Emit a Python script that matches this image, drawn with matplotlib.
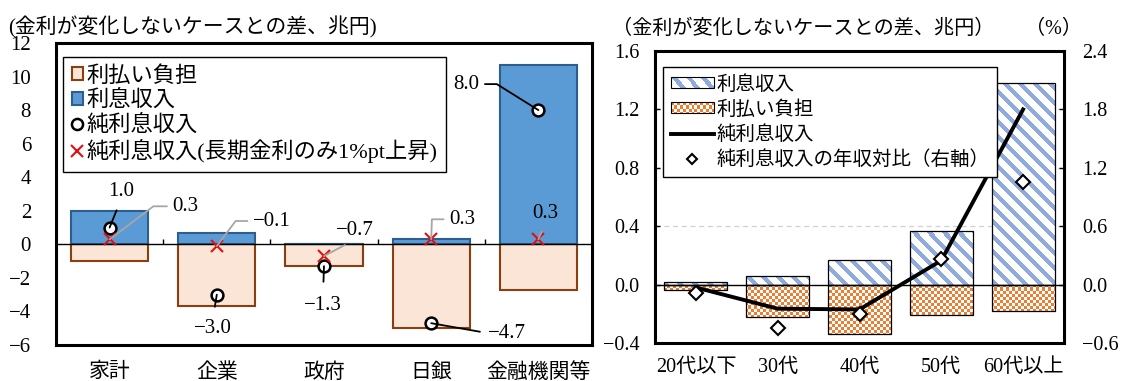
import numpy as np
import matplotlib
matplotlib.use('Agg')
import matplotlib.pyplot as plt
import matplotlib.colors as mcolors
from matplotlib.patches import Patch, Rectangle
from matplotlib.lines import Line2D
from matplotlib.legend_handler import HandlerBase
from matplotlib.image import BboxImage
from matplotlib.transforms import Bbox, TransformedBbox
from matplotlib.ticker import FuncFormatter

plt.rcParams['font.family'] = ['Liberation Serif', 'Noto Sans CJK JP']
plt.rcParams['axes.unicode_minus'] = True

# 部門別（兆円）
sectors = ['家計', '企業', '政府', '日銀', '金融機関等']
sec_income = [2.0, 0.7, 0.0, 0.3, 10.7]
sec_payment = [-1.0, -3.7, -1.3, -5.0, -2.7]
sec_net = [1.0, -3.0, -1.3, -4.7, 8.0]
sec_net_long = [0.3, -0.1, -0.7, 0.3, 0.3]

# 家計の年代別（兆円、右軸は%）
ages = ['20代以下', '30代', '40代', '50代', '60代以上']
age_income = [0.015, 0.06, 0.17, 0.37, 1.38]
age_payment = [-0.035, -0.225, -0.34, -0.205, -0.18]
age_net = [-0.02, -0.165, -0.17, 0.165, 1.20]
age_ratio = [-0.09, -0.45, -0.30, 0.26, 1.05]

W, H = 1123, 381
fig = plt.figure(figsize=(W / 100, H / 100), dpi=100)


def px_box(x0, y0, x1, y1):
    return [x0 / W, 1 - y1 / H, (x1 - x0) / W, (y1 - y0) / H]


def fmt(v):
    return f'{v:.1f}'.replace('-', '\u2212')


def pattern(kind, w, h, color):
    j, i = np.meshgrid(np.arange(w), np.arange(h))
    if kind == 'stripe':
        on = (j - i) % 15 < 6
    else:
        on = ((i // 3) + (j // 3)) % 2 == 0
    rgba = np.ones((h, w, 4))
    rgba[on, :3] = mcolors.to_rgb(color)
    return rgba


class PatternHandler(HandlerBase):
    def __init__(self, rgba):
        super().__init__()
        self.rgba = rgba

    def create_artists(self, legend, orig_handle, xdescent, ydescent,
                       width, height, fontsize, trans):
        bb = TransformedBbox(Bbox.from_bounds(-xdescent, -ydescent, width, height), trans)
        img = BboxImage(bb, interpolation='nearest')
        img.set_data(self.rgba)
        edge = Rectangle((-xdescent, -ydescent), width, height, facecolor='none',
                         edgecolor='black', lw=0.8, transform=trans)
        return [img, edge]


BLUE, BLUE_EDGE = '#5B9BD5', '#2E5E8E'
PEACH, BROWN = '#FBE5D6', '#8B3E0F'
RED = '#E01010'
STRIPE, CHECK = '#8FAADC', '#ED7D31'

# ---- 左：部門別 ----
ax1 = fig.add_axes(px_box(56, 43, 592, 345))
x = np.arange(len(sectors))
ax1.bar(x, sec_payment, 0.72, color=PEACH, edgecolor=BROWN, linewidth=1.5, zorder=2)
ax1.bar(x, sec_income, 0.72, color=BLUE, edgecolor=BLUE_EDGE, linewidth=1.5, zorder=2)
ax1.axhline(0, color='black', lw=1, zorder=3)
ax1.plot(x[:-1] + 0.5, np.zeros(len(x) - 1), ls='none', marker=2, ms=3.8, mew=1,
         color='black', zorder=3)
ax1.plot(x, sec_net, 'o', ms=8.5, mfc='white', mec='black', mew=1.8, zorder=5)
ax1.plot(x, sec_net_long, 'x', ms=8, mew=1.5, color=RED, zorder=5)

# ラベル: (値リスト, 番号, dx, dy, relpos, 接続, 線色, shrinkA)
labels1 = [
    (sec_net, 0, 12, 36, (0.45, 0), 'arc3', 'black', 5),
    (sec_net_long, 0, 76, 33, (0, 0.5), 'angle,angleA=0,angleB=37,rad=0', '#A6A6A6', 2),
    (sec_net_long, 1, 55, 25, (0, 0.5), 'angle,angleA=0,angleB=53,rad=0', '#A6A6A6', 2),
    (sec_net_long, 2, 31, 26, (0.5, 0), 'arc3', '#A6A6A6', 4),
    (sec_net, 2, -1, -39, (0.5, 1), 'arc3', 'black', 8),
    (sec_net, 1, -4, -34, (0.5, 1), 'arc3', 'black', 7),
    (sec_net, 3, 76, -10, (0, 0.5), 'arc3', 'black', 4),
    (sec_net_long, 3, 31, 20, (0, 0.5), 'angle,angleA=0,angleB=88,rad=0', '#A6A6A6', 2),
    (sec_net_long, 4, 7, 26, (0.5, 0), 'arc3', '#A6A6A6', 5),
    (sec_net, 4, -72, 26, (1, 0.5), 'angle,angleA=0,angleB=148,rad=0', 'black', 2),
]
for vals, i, dx, dy, rp, cs, lc, sa in labels1:
    ax1.annotate(fmt(vals[i]), xy=(x[i], vals[i]), xytext=(dx, dy),
                 textcoords='offset pixels', ha='center', va='center', fontsize=15,
                 zorder=6,
                 arrowprops=dict(arrowstyle='-', color=lc, lw=1.3, relpos=rp,
                                 connectionstyle=cs, shrinkA=sa, shrinkB=0))

ax1.set_xlim(-0.5, len(x) - 0.5)
ax1.set_ylim(-6, 12)
ax1.set_yticks(range(-6, 13, 2))
ax1.set_xticks(x, sectors)
ax1.tick_params(axis='y', length=0, pad=18, labelsize=15)
ax1.tick_params(axis='x', length=0, pad=13, labelsize=15)
for s in ax1.spines.values():
    s.set_linewidth(2.2)

h1 = [Patch(facecolor=PEACH, edgecolor=BROWN, lw=1.5),
      Patch(facecolor=BLUE, edgecolor=BLUE_EDGE, lw=1.5),
      Line2D([], [], ls='none', marker='o', ms=8, mfc='white', mec='black', mew=1.8),
      Line2D([], [], ls='none', marker='x', ms=8, mew=1.5, color=RED)]
leg1 = ax1.legend(h1, ['利払い負担', '利息収入', '純利息収入', '純利息収入(長期金利のみ1%pt上昇)'],
                  loc='upper left', bbox_to_anchor=(7 / 536, 1 - 14 / 302), borderaxespad=0,
                  fontsize=16, handlelength=0.5, handleheight=0.5, handletextpad=0.15,
                  labelspacing=0.15, borderpad=0.4, fancybox=False, edgecolor='black',
                  framealpha=1)
leg1.get_frame().set_linewidth(1.0)

# ---- 右：家計の年代別 ----
ax2 = fig.add_axes(px_box(655, 51, 1064, 343))
pw, ph = 409, 292
stripe_img = pattern('stripe', pw, ph, STRIPE)
check_img = pattern('check', pw, ph, CHECK)
xa = np.arange(len(ages))
inc_bars = ax2.bar(xa, age_income, 0.77, facecolor='none', edgecolor='black', lw=0.9, zorder=3)
pay_bars = ax2.bar(xa, age_payment, 0.77, facecolor='none', edgecolor='black', lw=0.9, zorder=3)
for bars, img in ((inc_bars, stripe_img), (pay_bars, check_img)):
    for b in bars:
        im = ax2.imshow(img, extent=(0, 1, 0, 1), transform=ax2.transAxes,
                        interpolation='nearest', aspect='auto', zorder=2)
        im.set_clip_path(b)
ax2.axhline(0, color='black', lw=1, zorder=3.5)
ax2.plot(xa, age_net, color='black', lw=2.8, zorder=4)
ax2.yaxis.grid(True, ls=(0, (4, 3)), color='#D0D0D0', lw=0.9)
ax2.set_axisbelow(True)
ax2.set_xlim(-0.5, len(xa) - 0.5)
ax2.set_ylim(-0.4, 1.6)
ax2.set_yticks(np.arange(-0.4, 1.61, 0.4))
ax2.yaxis.set_major_formatter(FuncFormatter(lambda v, p: fmt(v)))
ax2.set_xticks(xa, ages)
ax2.tick_params(axis='y', direction='in', length=3.6, width=1, pad=11, labelsize=14.5)
ax2.tick_params(axis='x', length=0, pad=10.5, labelsize=14.5)
for s in ax2.spines.values():
    s.set_linewidth(2.2)

ax2r = ax2.twinx()
ax2r.plot(xa, age_ratio, 'D', ms=7, mfc='white', mec='black', mew=1.5, zorder=5)
ax2r.set_ylim(-0.6, 2.4)
ax2r.set_yticks(np.arange(-0.6, 2.41, 0.6))
ax2r.yaxis.set_major_formatter(FuncFormatter(lambda v, p: fmt(v)))
ax2r.tick_params(axis='y', direction='in', length=3.6, width=1, pad=13, labelsize=14.5)
for s in ax2r.spines.values():
    s.set_visible(False)

stripe_h = Patch()
check_h = Patch()
h2 = [stripe_h, check_h,
      Line2D([], [], color='black', lw=2.8),
      Line2D([], [], ls='none', marker='D', ms=5.5, mfc='white', mec='black', mew=1.5)]
leg2 = ax2r.legend(h2, ['利息収入', '利払い負担', '純利息収入', '純利息収入の年収対比（右軸）'],
                   handler_map={stripe_h: PatternHandler(stripe_img[:10, :44]),
                                check_h: PatternHandler(check_img[:10, :44])},
                   loc='upper left', bbox_to_anchor=(8 / 409, 1 - 16 / 292), borderaxespad=0,
                   fontsize=14, handlelength=2.2, handleheight=0.45, handletextpad=0.15,
                   labelspacing=0.33, borderpad=0.4, fancybox=False, edgecolor='black',
                   framealpha=1)
leg2.get_frame().set_linewidth(1.0)

# 単位
fig.text(8 / W, 1 - 27 / H, '(金利が変化しないケースとの差、兆円)', ha='left', va='center', fontsize=15)
fig.text(612 / W, 1 - 29 / H, '（金利が変化しないケースとの差、兆円）', ha='left', va='center', fontsize=14.5)
fig.text(1025 / W, 1 - 29 / H, '（%）', ha='left', va='center', fontsize=14.5)

fig.savefig('out.png', dpi=100)
